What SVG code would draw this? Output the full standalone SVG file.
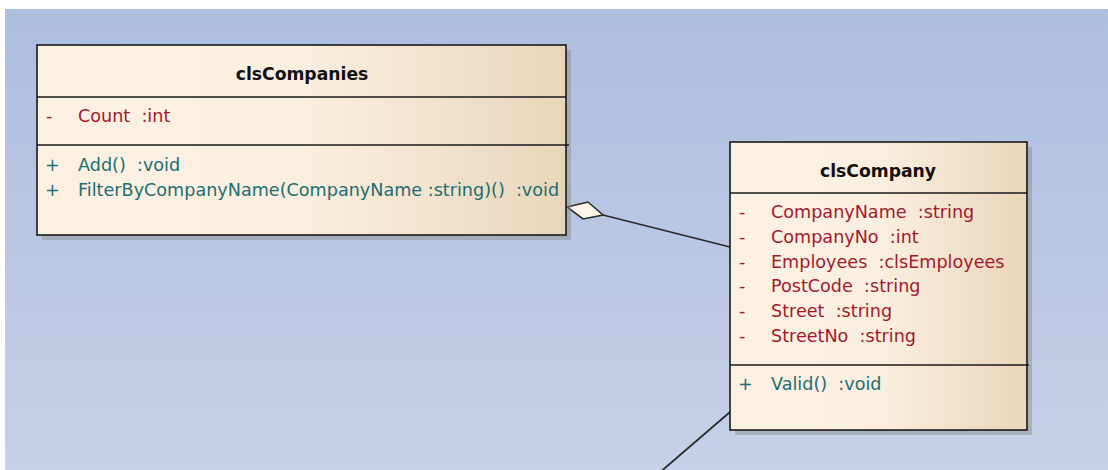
<svg xmlns="http://www.w3.org/2000/svg" width="1108" height="470" viewBox="0 0 1108 470" xml:space="preserve">
<defs>
<linearGradient id="bg" x1="0" y1="0" x2="0" y2="1">
<stop offset="0" stop-color="#AEBEDF"/>
<stop offset="1" stop-color="#C6D0E8"/>
</linearGradient>
<linearGradient id="cls" x1="0" y1="0" x2="1" y2="0">
<stop offset="0" stop-color="#FBF1E3"/>
<stop offset="0.5" stop-color="#FAEFDF"/>
<stop offset="1" stop-color="#E9D6BA"/>
</linearGradient>
<style>
.box{fill:url(#cls);stroke:#1a1a1a;stroke-width:1.6}
.shadow{fill:#8a8a8a;opacity:0.45}
.sep{stroke:#1a1a1a;stroke-width:1.6}
text{white-space:pre}
.title{font-family:"DejaVu Sans",sans-serif;font-weight:bold;font-size:17.2px;fill:#111;text-anchor:middle}
.attr{font-family:"DejaVu Sans",sans-serif;font-size:17.6px;fill:#A3182E}
.op{font-family:"DejaVu Sans",sans-serif;font-size:17.6px;fill:#1D6E72}
.conn{stroke:#2a2a2a;stroke-width:1.8;fill:none}
</style>
</defs>
<rect width="1108" height="470" fill="#FFFFFF"/>
<rect x="5" y="9" width="1103" height="461" fill="url(#bg)"/>

<g id="connectors">
<line class="conn" x1="603" y1="215" x2="730" y2="247"/>
<polygon points="567,207 588,202 603,215 583,219" fill="#FCF5EA" stroke="#2a2a2a" stroke-width="1.6"/>
<line class="conn" x1="730" y1="412" x2="651" y2="480"/>
</g>

<g id="clsCompanies">
<rect class="shadow" x="42" y="50" width="529" height="190"/>
<rect class="box" x="37" y="45" width="529" height="190"/>
<line class="sep" x1="37" y1="97" x2="566" y2="97"/>
<line class="sep" x1="37" y1="145" x2="569" y2="145"/>
<text class="title" x="302" y="80">clsCompanies</text>
<text class="attr" x="46" y="122">-</text>
<text class="attr" x="78" y="122">Count  :int</text>
<text class="op" x="45" y="171">+</text>
<text class="op" x="78" y="171">Add()  :void</text>
<text class="op" x="45" y="196">+</text>
<text class="op" x="78" y="196">FilterByCompanyName(CompanyName :string)()  :void</text>
</g>

<g id="clsCompany">
<rect class="shadow" x="735" y="147" width="297" height="288"/>
<rect class="box" x="730" y="142" width="297" height="288"/>
<line class="sep" x1="730" y1="193" x2="1027" y2="193"/>
<line class="sep" x1="730" y1="365" x2="1029" y2="365"/>
<text class="title" x="878" y="177">clsCompany</text>
<text class="attr" x="739" y="218">-</text>
<text class="attr" x="771" y="218">CompanyName  :string</text>
<text class="attr" x="739" y="243">-</text>
<text class="attr" x="771" y="243">CompanyNo  :int</text>
<text class="attr" x="739" y="268">-</text>
<text class="attr" x="771" y="268">Employees  :clsEmployees</text>
<text class="attr" x="739" y="292">-</text>
<text class="attr" x="771" y="292">PostCode  :string</text>
<text class="attr" x="739" y="317">-</text>
<text class="attr" x="771" y="317">Street  :string</text>
<text class="attr" x="739" y="342">-</text>
<text class="attr" x="771" y="342">StreetNo  :string</text>
<text class="op" x="738" y="390">+</text>
<text class="op" x="771" y="390">Valid()  :void</text>
</g>
</svg>
